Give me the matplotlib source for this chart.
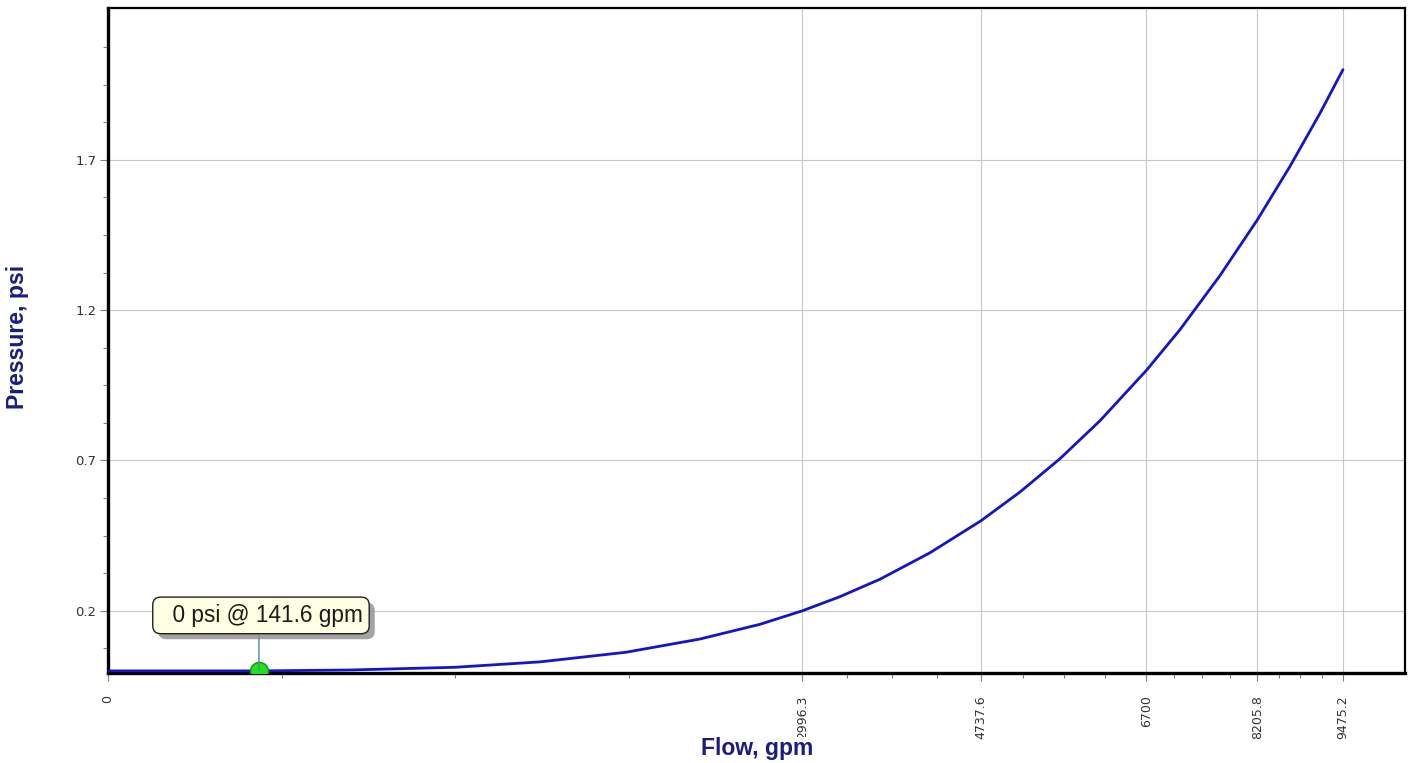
import numpy as np
import matplotlib
matplotlib.use("Agg")
import matplotlib.pyplot as plt
import matplotlib.patheffects as pe
from matplotlib.ticker import FixedLocator

# Pump/system curve: pressure drop vs flow
flow_gpm = [0, 52, 142, 364, 748, 1159, 1667, 2177, 2641, 2996.3, 3329, 3703,
            4198, 4737.6, 5167, 5631, 6113, 6700, 7139, 7682, 8205.8, 8679,
            9126, 9475.2]
pressure_psi = [0.0, 0.0, 0.0, 0.003, 0.012, 0.030, 0.062, 0.106, 0.155, 0.2,
                0.247, 0.305, 0.393, 0.5, 0.595, 0.706, 0.832, 1.0, 1.135,
                1.315, 1.5, 1.678, 1.855, 2.0]

x_tick_values = [0, 2996.3, 4737.6, 6700, 8205.8, 9475.2]
x_tick_labels = ["0", "2996.3", "4737.6", "6700", "8205.8", "9475.2"]
y_tick_values = [0.2, 0.7, 1.2, 1.7]
y_tick_labels = ["0.2", "0.7", "1.2", "1.7"]

marker_flow = 141.6
marker_pressure = 0.0

W, H = 1415, 763
fig = plt.figure(figsize=(W / 100, H / 100), dpi=100)
fig.patch.set_facecolor("white")
left, right, top, bottom = 108, 1405, 8, 673
ax = fig.add_axes([left / W, (H - bottom) / H, (right - left) / W, (bottom - top) / H])

ax.set_xscale("function", functions=(lambda v: np.sqrt(np.clip(v, 0, None)), np.square))
ax.set_xlim(0, 10451)
ax.set_ylim(-0.007, 2.205)

ax.plot(flow_gpm, pressure_psi, color="#1414c8", lw=2.0, zorder=3, solid_capstyle="round")

# Major ticks / grid
ax.xaxis.set_major_locator(FixedLocator(x_tick_values))
ax.set_xticklabels(x_tick_labels, rotation=90, fontsize=9, color="#333333",
                   family="DejaVu Sans")
ax.yaxis.set_major_locator(FixedLocator(y_tick_values))
ax.set_yticklabels(y_tick_labels, fontsize=9.5, color="#333333", family="DejaVu Sans")

# Minor ticks: four equal steps (in sqrt space) between neighbouring major flows
u = np.sqrt(np.array(x_tick_values, dtype=float))
x_minor = []
for a, b in zip(u[:-1], u[1:]):
    for k in (1, 2, 3):
        x_minor.append((a + (b - a) * k / 4) ** 2)
ax.xaxis.set_minor_locator(FixedLocator(x_minor))
y_minor = [v for v in np.arange(0.075, 2.2, 0.125) if all(abs(v - m) > 1e-6 for m in y_tick_values)]
ax.yaxis.set_minor_locator(FixedLocator(y_minor))

ax.tick_params(axis="both", which="major", direction="out", length=6, width=0.8,
               color="#808080")
ax.tick_params(axis="both", which="minor", direction="out", length=3.6, width=0.8,
               color="#808080")
ax.tick_params(axis="x", which="major", pad=10)
ax.tick_params(axis="y", which="major", pad=2.5)

ax.grid(True, which="major", color="#c8c8c8", lw=0.8, zorder=0)
ax.set_axisbelow(True)

for side in ("left", "bottom"):
    ax.spines[side].set_linewidth(2.4)
    ax.spines[side].set_color("black")
for side in ("top", "right"):
    ax.spines[side].set_linewidth(1.6)
    ax.spines[side].set_color("black")

# Highlighted operating point with callout
ax.plot([marker_flow], [marker_pressure], marker="o", ms=13, mfc="#22e022",
        mec="#139013", mew=1.0, zorder=5)
label = f"  {marker_pressure:g} psi @ {marker_flow} gpm"
callout = ax.annotate(label, xy=(marker_flow, marker_pressure), xytext=(2, 44),
                      textcoords="offset pixels", ha="center", va="bottom",
                      fontsize=16.3, family="Liberation Sans", color="#1a1a1a", zorder=7,
                      bbox=dict(boxstyle="round,pad=0.3,rounding_size=0.35",
                                fc="#ffffe4", ec="#202020", lw=1.0),
                      arrowprops=dict(arrowstyle="-", color="#4f8c8c", lw=1.0,
                                      shrinkA=0, shrinkB=0, relpos=(0.49, 0.0)),
                      annotation_clip=False)
callout.get_bbox_patch().set_path_effects(
    [pe.SimplePatchShadow(offset=(4, -4), shadow_rgbFace="#8c8c8c", alpha=0.8), pe.Normal()])

# Axis titles
fig.text(757 / W, 1 - 749 / H, "Flow, gpm", ha="center", va="center",
         fontsize=16.5, fontweight="bold", family="Liberation Sans", color="#1c1c80",
         bbox=dict(fc="white", ec="none", pad=0.5))
fig.text(18 / W, 1 - 337 / H, "Pressure, psi", ha="center", va="center",
         rotation=90, fontsize=16.6, fontweight="bold", family="Liberation Sans",
         color="#1c1c80")

fig.savefig("out.png", dpi=100)
